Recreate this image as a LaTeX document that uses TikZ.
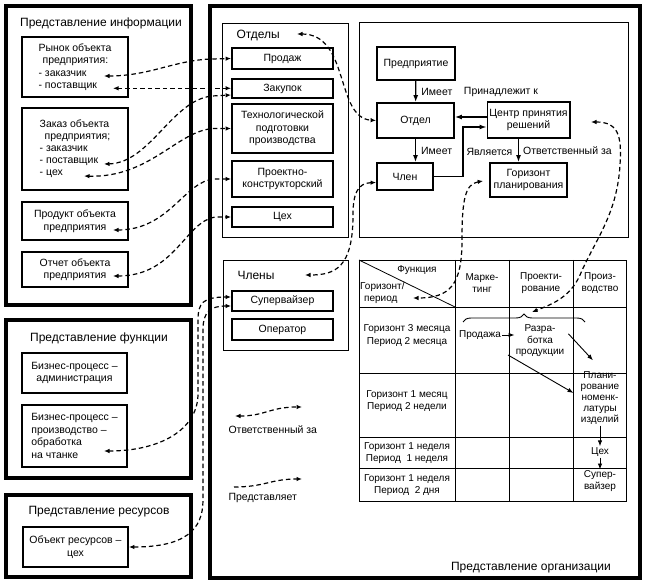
\documentclass[tikz,border=0pt]{standalone}
\usepackage{fontspec}
\setmainfont{Liberation Sans}
\usepackage{tikz}
\usetikzlibrary{arrows.meta,decorations.pathreplacing}

\begin{document}
\begin{tikzpicture}[x=1pt,y=-1pt,>={Latex[length=5.5pt,width=4.5pt]},
  every node/.style={font=\fontsize{10.5}{12.5}\selectfont},
  ttl/.style={font=\fontsize{12}{14}\selectfont},
  outerbox/.style={line width=3.5pt},
  thinframe/.style={line width=0.8pt},
  itembox/.style={draw,line width=1.8pt,rectangle,inner sep=2pt,align=center},
  cell/.style={align=center,inner sep=1pt,font=\fontsize{10}{11.5}\selectfont},
  sarr/.style={-{Latex[length=7pt,width=5pt]},line width=1.3pt},
  tarr/.style={-{Latex[length=6pt,width=4.5pt]},line width=0.9pt},
  dcon/.style={<->,line width=1.2pt,dash pattern=on 4.5pt off 3pt},
  drep/.style={->,line width=1.2pt,dash pattern=on 4.5pt off 3pt}]
\fill[white] (0,0) rectangle (646,583);
\useasboundingbox (0,0) rectangle (646,583);
\draw[outerbox] (6,6) rectangle (191,305);
\draw[outerbox] (6,320) rectangle (191,478);
\draw[outerbox] (6,495) rectangle (191,577);
\draw[outerbox] (210,6) rectangle (640,578);
\draw[thinframe] (222,23) rectangle (348,237);
\draw[thinframe] (223,260) rectangle (348,350);
\draw[thinframe] (359,22) rectangle (628,237);
\node[ttl] (info-t) at (101,23) {Представление информации};
\node[ttl] (func-t) at (99,338) {Представление функции};
\node[ttl] (res-t) at (99,512) {Представление ресурсов};
\node[ttl] (org-t) at (531,568) {Представление организации};
\node[ttl,anchor=west] (otdely-t) at (233,36) {Отделы};
\node[ttl,anchor=west] (chleny-t) at (234,275) {Члены};
\node[itembox,minimum width=106pt,minimum height=60pt,align=left] (rynok) at (75,67) {Рынок объекта\\\hspace*{4pt}предприятия:\\- заказчик\\- поставщик};
\node[itembox,minimum width=106pt,minimum height=82pt,align=left,font=\fontsize{10.5}{12}\selectfont] (zakaz) at (75,149) {Заказ объекта\\\hspace*{5pt}предприятия;\\- заказчик\\- поставщик\\- цех};
\node[itembox,minimum width=106pt,minimum height=38pt] (produkt) at (75,221) {Продукт объекта\\предприятия};
\node[itembox,minimum width=106pt,minimum height=35pt] (otchet) at (75,269.5) {Отчет объекта\\предприятия};
\node[itembox,minimum width=105pt,minimum height=40pt] (bpadm) at (74.5,373) {Бизнес-процесс –\\администрация};
\node[itembox,minimum width=105pt,minimum height=62pt,align=left] (bpprod) at (74.5,436) {Бизнес-процесс –\\производство –\\обработка\\на чтанке};
\node[itembox,minimum width=105pt,minimum height=40pt] (obres) at (75.5,547) {Объект ресурсов –\\цех};
\node[itembox,minimum width=101pt,minimum height=21pt] (prodazh) at (282.5,58.5) {Продаж};
\node[itembox,minimum width=101pt,minimum height=19pt] (zakupok) at (282.5,88.5) {Закупок};
\node[itembox,minimum width=101pt,minimum height=49pt] (tekhn) at (282.5,128.5) {Технологической\\подготовки\\производства};
\node[itembox,minimum width=101pt,minimum height=36pt] (proekt) at (282.5,179) {Проектно-\\конструкторский};
\node[itembox,minimum width=101pt,minimum height=20pt] (tsekh) at (282.5,217) {Цех};
\node[itembox,minimum width=101pt,minimum height=20pt] (superv) at (282.5,301) {Супервайзер};
\node[itembox,minimum width=101pt,minimum height=21pt] (operator) at (282.5,329.5) {Оператор};
\node[itembox,minimum width=78pt,minimum height=33pt] (predpr) at (416,63.5) {Предприятие};
\node[itembox,minimum width=77pt,minimum height=35pt] (otdel) at (415.5,120.5) {Отдел};
\node[itembox,minimum width=77pt,minimum height=36pt] (centr) at (528.5,120) {Центр принятия\\решений};
\node[itembox,minimum width=56pt,minimum height=27pt] (chlen) at (405,176.5) {Член};
\node[itembox,minimum width=77pt,minimum height=34pt] (gorizont) at (528.5,180) {Горизонт\\планирования};
\node (prinadl) at (501,92) {Принадлежит к};
\draw[sarr] (predpr) -- node[right,inner sep=5pt] (imeet1) {Имеет} (otdel);
\draw[sarr] (otdel) -- node[right,inner sep=5pt] (imeet2) {Имеет} (otdel |- chlen.north);
\draw[sarr] ([yshift=3pt]centr.west) -- ([yshift=3pt]centr.west -| otdel.east);
\draw[sarr] (chlen.east) -- ++(29,0) |- node[pos=0.25,right,inner sep=3pt] (yavl) {Является} ([yshift=-7pt]centr.west);
\draw[sarr] ([xshift=-10pt]centr.south) -- node[right,inner sep=4pt] (otv) {Ответственный за} ([xshift=-10pt]gorizont.north);
\draw[thinframe] (359,260) rectangle (626,501);
\draw[thinframe] (455,260) -- (455,501) (509,260) -- (509,501) (573,260) -- (573,501);
\draw[thinframe] (359,307) -- (626,307) (359,373) -- (626,373) (359,437) -- (626,437) (359,468) -- (626,468);
\draw[thinframe] (359,260) -- (455,307);
\node[cell] (t-func) at (417,270) {Функция};
\node[cell,anchor=west,align=left] (t-hor) at (359,293) {Горизонт/\\\hspace*{4pt}период};
\node[cell] (t-mark) at (482,283) {Марке-\\тинг};
\node[cell] (t-proj) at (541,283) {Проекти-\\рование};
\node[cell] (t-proizv) at (600,283) {Произ-\\водство};
\node[cell,font=\fontsize{10}{13}\selectfont] (r-3m) at (407,335.5) {Горизонт 3 месяца\\Период 2 месяца};
\node[cell,font=\fontsize{10}{12.5}\selectfont] (r-1m) at (407,401) {Горизонт 1 месяц\\Период 2 недели};
\node[cell] (r-1w) at (407,453) {Горизонт 1 неделя\\Период\ \ 1 неделя};
\node[cell] (r-2d) at (407,485) {Горизонт 1 неделя\\Период\ \ 2 дня};
\node[cell] (prodazha) at (480,335) {Продажа};
\node[cell] (razrab) at (540,341) {Разра-\\ботка\\продукции};
\node[cell,font=\fontsize{10}{11}\selectfont] (plan) at (600,398) {Плани-\\рование\\номенк-\\латуры\\изделий};
\node[cell] (tsekh-t) at (600,452) {Цех};
\node[cell] (superv-t) at (600,481) {Супер-\\вайзер};
\draw[decorate,decoration={brace,amplitude=8pt},line width=0.9pt] (463,322) -- (585,322);
\coordinate (c-diag) at (508,355);
\draw[tarr] (prodazha) -- (prodazha -| razrab.west);
\draw[tarr] ([xshift=3pt,yshift=-10pt]razrab.north east) -- ([xshift=-7pt,yshift=10pt]plan.north);
\draw[tarr] (c-diag) -- ([xshift=-6pt,yshift=5pt]plan.west);
\draw[tarr] (plan) -- (tsekh-t);
\draw[tarr] (tsekh-t) -- (superv-t);
\coordinate (c-zak1) at (104,76);
\coordinate (c-post1) at (113,88.3);
\coordinate (c-post2) at (104,164);
\coordinate (c-tsekh2) at (84,176);
\coordinate (c-produkt) at (113,230);
\coordinate (c-otchet) at (113,276);
\coordinate (c-bizpr) at (104,451);
\coordinate (c-otdely) at (297,34);
\coordinate (c-chleny) at (305,275);
\coordinate (c-period) at (413,298);
\coordinate (c-centr) at (591,122);
\coordinate (c-brace) at (532,312);
\draw[dcon] (c-zak1) .. controls (150,76) and (175,60) .. (212,59) -- (prodazh.west);
\draw[dcon] (c-post1) -- (c-post1 -| zakupok.west);
\draw[dcon] (c-post2) .. controls (150,163) and (172,100) .. (212,96) -- ([yshift=-6.5pt]zakupok.west);
\draw[dcon] (c-tsekh2) .. controls (150,178) and (178,130) .. (214,128.5) -- (tekhn.west);
\draw[dcon] (c-produkt) .. controls (170,230) and (185,180) .. (215,179) -- (proekt.west);
\draw[dcon] (c-otchet) .. controls (175,276) and (185,222) .. (215,217) -- (tsekh.west);
\draw[dcon] (c-otdely) .. controls (350,34) and (335,118) .. (otdel.west);
\draw[dcon] ([yshift=-6pt]chlen.west) .. controls (357,183) and (353,195) .. (353,215) .. controls (353,268) and (335,275) .. (c-chleny);
\draw[dcon,shorten <=6pt] (gorizont.west) .. controls (465,184) and (462,200) .. (462,240) .. controls (462,285) and (450,298) .. (c-period);
\draw[dcon] (c-centr) .. controls (618,122) and (622,135) .. (620,165) .. controls (617,215) and (595,240) .. (580,275) .. controls (570,298) and (550,305) .. (c-brace);
\draw[dcon] (c-bizpr) .. controls (160,451) and (197,430) .. (198,395) -- (198,320) .. controls (198,303) and (203,297) .. ([yshift=4pt]superv.west);
\draw[dcon] (obres.east) .. controls (185,547) and (203,530) .. (203,500) -- (203,330) .. controls (203,312) and (210,306) .. ([yshift=-5pt]superv.west);
\coordinate (c-lg1a) at (235,416);
\coordinate (c-lg1b) at (302,407);
\coordinate (c-lg2a) at (234,487);
\coordinate (c-lg2b) at (302,479);
\draw[dcon] (c-lg1a) .. controls (265,416) and (270,407) .. (c-lg1b);
\draw[drep] (c-lg2a) .. controls (265,487) and (270,479) .. (c-lg2b);
\node[anchor=west] (lg-resp) at (225,430) {Ответственный за};
\node[anchor=west] (lg-repr) at (225,498) {Представляет};
\end{tikzpicture}
\end{document}
